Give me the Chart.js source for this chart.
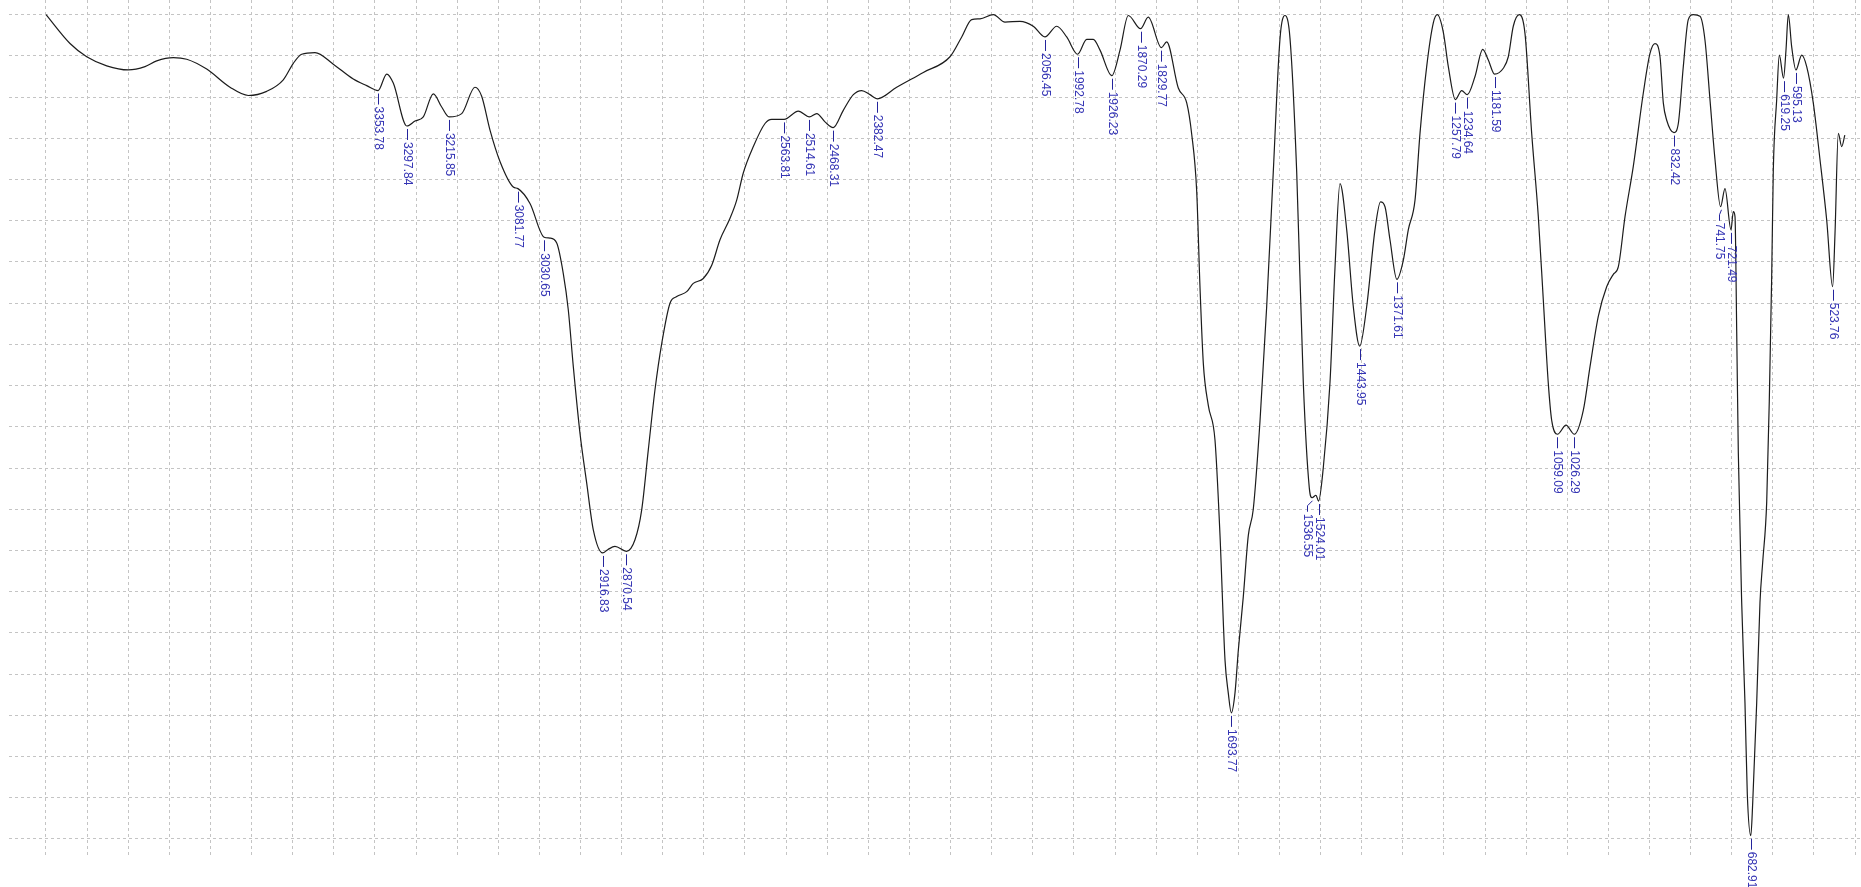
<!DOCTYPE html>
<html>
<head>
<meta charset="utf-8">
<title>IR spectrum</title>
<script src="https://cdn.jsdelivr.net/npm/chart.js@4.4.1/dist/chart.umd.min.js"></script>
<style>
    html, body { margin: 0; padding: 0; background: #ffffff; overflow: hidden; }
    #spectrum { display: block; }
</style>
</head>
<body>
<canvas id="spectrum" width="1861" height="887"></canvas>
<script>
const wavenumbers = [
    4000, 3953.3, 3920.8, 3881.9, 3839.9, 3807.4, 3784.6, 3752.3, 3726.2, 3687.3,
    3642.0, 3606.4, 3570.6, 3538.3, 3518.8, 3502.5, 3476.6, 3441.0, 3402.1, 3376.0,
    3353.78, 3337.1, 3324.3, 3297.84, 3282.0, 3265.9, 3246.4, 3230.1, 3215.85, 3191.2,
    3165.3, 3152.3, 3136.1, 3116.7, 3090.8, 3081.77, 3058.3, 3030.65, 3019.4, 3006.3,
    2993.5, 2983.8, 2974.0, 2961.0, 2948.0, 2935.1, 2916.83, 2907.0, 2892.9, 2870.54,
    2854.0, 2841.0, 2828.1, 2815.1, 2802.0, 2785.9, 2772.8, 2753.4, 2740.6, 2721.1,
    2704.7, 2688.6, 2669.1, 2656.1, 2643.3, 2623.8, 2601.0, 2588.0, 2563.81, 2536.2,
    2514.61, 2500.4, 2484.3, 2468.31, 2448.7, 2429.2, 2412.9, 2396.7, 2382.47, 2344.8,
    2293.0, 2241.1, 2218.3, 2198.9, 2182.7, 2156.8, 2134.1, 2104.9, 2079.0, 2056.45,
    2033.5, 2014.0, 1992.78, 1975.1, 1962.3, 1949.2, 1926.23, 1910.3, 1894.2, 1870.29,
    1855.3, 1829.77, 1819.5, 1796.9, 1780.5, 1770.8, 1761.1, 1754.7, 1748.2, 1738.5,
    1725.5, 1715.7, 1706.0, 1699.6, 1693.77, 1686.6, 1680.1, 1670.4, 1660.7, 1651.0,
    1637.9, 1624.9, 1612.1, 1599.0, 1589.3, 1579.5, 1566.5, 1553.7, 1542.0, 1536.55,
    1529.0, 1524.01, 1514.7, 1501.7, 1492.0, 1482.3, 1469.2, 1456.4, 1443.95, 1430.3,
    1414.2, 1403.4, 1394.7, 1385.0, 1371.61, 1359.1, 1349.4, 1336.3, 1326.6, 1313.6,
    1300.7, 1293.0, 1281.3, 1271.5, 1257.79, 1245.5, 1234.64, 1219.6, 1204.6, 1193.7,
    1181.59, 1164.5, 1154.8, 1145.1, 1133.4, 1122.3, 1109.3, 1096.4, 1086.7, 1077.0,
    1070.4, 1059.09, 1042.5, 1026.29, 1008.9, 995.8, 979.7, 963.4, 950.5, 940.8,
    927.7, 911.6, 892.1, 879.1, 869.4, 859.6, 853.2, 846.6, 832.42, 824.0,
    814.3, 804.6, 794.9, 781.8, 772.1, 762.4, 752.6, 741.75, 733.2, 721.49,
    717.0, 713.7, 710.4, 707.3, 700.7, 694.3, 689.8, 682.91, 679.3, 671.5,
    665.1, 659.8, 652.0, 647.0, 642.3, 639.2, 632.6, 627.5, 619.25, 614.5,
    610.0, 603.4, 595.13, 583.9, 574.2, 561.4, 548.3, 535.3, 523.76, 519.1,
    512.7, 506.1, 500.0
];

// transmittance (%T, normalised), one value per wavenumber above
const transmittance = [
    100.0, 96.5, 94.9, 93.8, 93.3, 93.7, 94.4, 94.8, 94.6, 93.4,
    91.2, 90.2, 90.7, 92.1, 94.1, 95.2, 95.4, 94.0, 92.2, 91.4,
    90.8, 92.8, 91.7, 86.5, 87.1, 87.6, 90.4, 88.8, 87.6, 88.0,
    91.2, 90.1, 86.0, 82.2, 79.1, 78.9, 77.1, 73.0, 72.9, 72.3,
    68.6, 64.2, 57.3, 49.2, 43.2, 37.5, 34.7, 35.1, 35.5, 34.9,
    36.3, 39.9, 47.2, 54.5, 60.1, 65.0, 65.8, 66.4, 67.4, 68.0,
    69.6, 72.7, 75.3, 77.5, 80.8, 84.0, 86.8, 87.3, 87.3, 88.3,
    87.6, 88.0, 87.0, 86.3, 88.4, 90.3, 90.8, 90.3, 89.8, 91.2,
    93.0, 94.9, 97.3, 99.4, 99.5, 100.0, 99.1, 99.2, 98.6, 97.3,
    98.6, 97.3, 95.2, 97.0, 97.0, 95.7, 92.6, 95.7, 99.9, 98.3,
    99.7, 96.0, 96.7, 91.1, 89.3, 85.5, 78.6, 67.0, 57.7, 52.6,
    48.4, 36.8, 21.7, 17.7, 15.3, 17.7, 22.9, 29.4, 36.8, 40.0,
    50.7, 64.6, 80.9, 97.1, 99.9, 97.1, 80.9, 55.4, 42.6, 41.4,
    41.7, 41.0, 45.1, 55.4, 69.3, 79.5, 73.9, 64.6, 59.8, 64.6,
    73.9, 77.3, 76.7, 72.7, 67.9, 70.2, 73.9, 77.5, 85.6, 93.7,
    99.0, 100.0, 97.9, 93.7, 89.7, 90.8, 90.3, 92.5, 95.8, 94.5,
    92.8, 93.5, 94.9, 98.6, 100.0, 97.7, 85.6, 75.5, 65.4, 55.3,
    50.8, 49.1, 50.2, 49.1, 52.0, 57.3, 63.4, 67.0, 68.5, 69.4,
    75.5, 81.6, 90.5, 95.3, 96.5, 94.9, 89.3, 87.2, 85.7, 86.8,
    93.7, 99.4, 100.0, 99.8, 96.9, 89.7, 82.4, 76.7, 78.9, 73.9,
    76.1, 75.5, 61.6, 47.0, 28.7, 16.5, 5.5, 0.4, 4.3, 16.5,
    28.7, 33.6, 40.9, 53.1, 68.3, 81.1, 89.7, 95.1, 92.3, 95.7,
    100.0, 96.1, 93.3, 95.1, 93.7, 89.3, 82.4, 75.1, 67.0, 73.5,
    85.6, 84.0, 85.4
];

// picked peaks, labelled under the trace
const peakWavenumbers = [
    3353.78, 3297.84, 3215.85, 3081.77, 3030.65, 2916.83, 2870.54, 2563.81, 2514.61,
    2468.31, 2382.47, 2056.45, 1992.78, 1926.23, 1870.29, 1829.77, 1693.77, 1536.55,
    1524.01, 1443.95, 1371.61, 1257.79, 1234.64, 1181.59, 1059.09, 1026.29, 832.42,
    741.75, 721.49, 682.91, 619.25, 595.13, 523.76
];

// grid positions
const xGrid = [
    4000, 3920, 3840, 3760, 3680, 3600, 3520, 3440, 3360, 3280, 3200, 3120, 3040, 2960, 2880,
    2800, 2720, 2640, 2560, 2480, 2400, 2320, 2240, 2160, 2080, 2000, 1920, 1840, 1760, 1680,
    1600, 1520, 1440, 1360, 1280, 1200, 1120, 1040, 960, 880, 800, 720, 640, 560, 480
];
const yGrid = [0, 5, 10, 15, 20, 25, 30, 35, 40, 45, 50, 55, 60, 65, 70, 75, 80, 85, 90, 95, 100];

function valueAt(wn) {
    for (let i = 0; i < wavenumbers.length - 1; i++) {
        const a = wavenumbers[i], b = wavenumbers[i + 1];
        if (wn <= a && wn >= b) {
            const t = (a - wn) / (a - b);
            return transmittance[i] + t * (transmittance[i + 1] - transmittance[i]);
        }
    }
    return transmittance[transmittance.length - 1];
}

const peakLabels = {
    id: 'peakLabels',
    afterDatasetsDraw(chart) {
        const ctx = chart.ctx;
        const xs = chart.scales.x;
        const ys = chart.scales.y;
        const pts = peakWavenumbers.map(wn => ({
            text: wn.toFixed(2),
            x: xs.getPixelForValue(wn),
            y: ys.getPixelForValue(valueAt(wn))
        }));
        pts.sort((a, b) => a.x - b.x);
        // push crowded labels to the left so they don't overlap
        for (let i = pts.length - 1; i >= 0; i--) {
            pts[i].tx = pts[i].x;
            if (i < pts.length - 1) {
                pts[i].tx = Math.min(pts[i].x, pts[i + 1].tx - 12);
            }
        }

        ctx.save();
        ctx.font = '12px "Liberation Sans", Arial, sans-serif';
        ctx.textAlign = 'left';
        ctx.textBaseline = 'middle';
        pts.forEach(p => {
            const x = Math.round(p.x) + 0.5;
            const tx = Math.round(p.tx) + 0.5;
            ctx.strokeStyle = '#24249c';
            ctx.lineWidth = 1;
            ctx.beginPath();
            ctx.moveTo(x, p.y + 3);
            if (tx !== x) {
                ctx.lineTo(tx, p.y + 8);
            }
            ctx.lineTo(tx, p.y + 14);
            ctx.stroke();

            ctx.save();
            ctx.translate(tx, p.y + 16);
            ctx.rotate(Math.PI / 2);
            ctx.fillStyle = '#3434b4';
            ctx.fillText(p.text, 0, 0);
            ctx.restore();
        });
        ctx.restore();
    }
};

const points = wavenumbers.map((wn, i) => ({ x: wn, y: transmittance[i] }));

const gridStyle = {
    color: '#c4c4c4',
    lineWidth: 1,
    drawTicks: false
};

new Chart(document.getElementById('spectrum').getContext('2d'), {
    type: 'line',
    data: {
        datasets: [{
            data: points,
            borderColor: '#1c1c1c',
            borderWidth: 1.2,
            pointRadius: 0,
            fill: false,
            cubicInterpolationMode: 'monotone'
        }]
    },
    options: {
        responsive: false,
        animation: false,
        events: [],
        layout: {
            padding: { left: 9, right: 0, top: 0, bottom: 29 }
        },
        scales: {
            x: {
                type: 'linear',
                reverse: true,
                min: 468.55,
                max: 4071.99,
                afterBuildTicks: s => { s.ticks = xGrid.map(v => ({ value: v })); },
                ticks: { display: false },
                grid: gridStyle,
                border: { display: false, dash: [3, 3] }
            },
            y: {
                min: -2.305,
                max: 101.783,
                afterBuildTicks: s => { s.ticks = yGrid.map(v => ({ value: v })); },
                ticks: { display: false },
                grid: gridStyle,
                border: { display: false, dash: [3, 3] }
            }
        },
        plugins: {
            legend: { display: false },
            tooltip: { enabled: false }
        }
    },
    plugins: [peakLabels]
});
</script>
</body>
</html>
